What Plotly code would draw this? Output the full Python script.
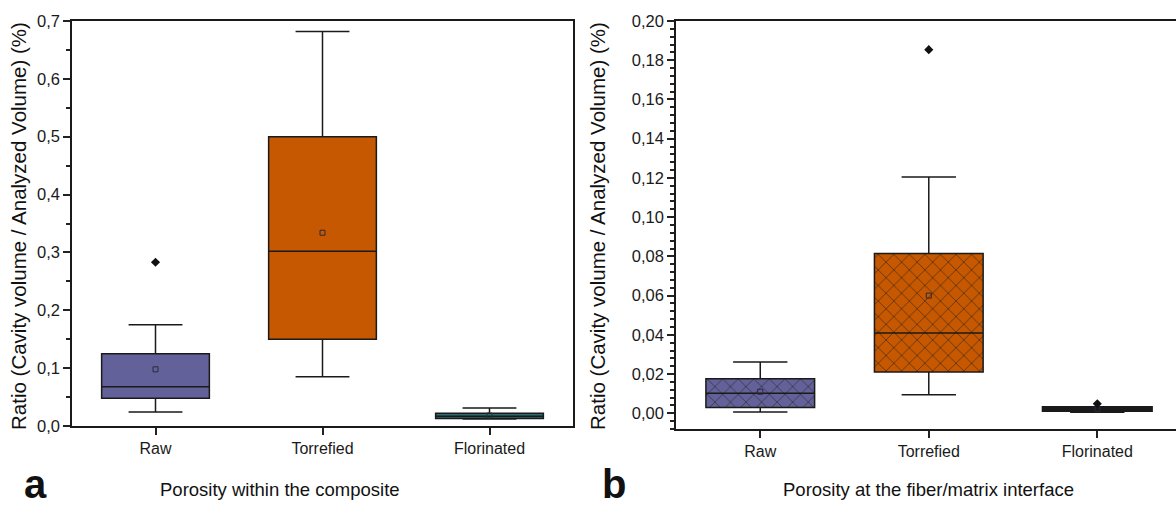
import plotly.graph_objects as go

W, H = 1176, 508
categories = ["Raw", "Torrefied", "Florinated"]

# Panel a: porosity within the composite
a_lower = [0.024, 0.085, 0.012]
a_q1 = [0.048, 0.150, 0.013]
a_median = [0.068, 0.302, 0.017]
a_q3 = [0.125, 0.500, 0.022]
a_upper = [0.175, 0.682, 0.031]
a_mean = [0.098, 0.334, 0.018]
a_outlier_cat = ["Raw"]
a_outlier_val = [0.283]

# Panel b: porosity at fiber/matrix interface
b_lower = [0.0007, 0.0095, 0.0008]
b_q1 = [0.0029, 0.0211, 0.0013]
b_median = [0.0102, 0.0409, 0.0022]
b_q3 = [0.0176, 0.0815, 0.0031]
b_upper = [0.0261, 0.1205, 0.0031]
b_mean = [0.0110, 0.0600, 0.0022]
b_outlier_cat = ["Torrefied", "Florinated"]
b_outlier_val = [0.1854, 0.0049]

colors = ["#63619a", "#c55800", "#2e6a6e"]
colors_b = ["#63619a", "#c55800", "#111111"]

FONT = "Liberation Sans, Arial, sans-serif"
BOXW = 0.645
INK = "#1a1a1a"
TICK = "#222222"

fig = go.Figure()

# Panel a boxes
for i, c in enumerate(categories):
    fig.add_trace(go.Box(
        x=[c], q1=[a_q1[i]], median=[a_median[i]], q3=[a_q3[i]],
        lowerfence=[a_lower[i]], upperfence=[a_upper[i]],
        fillcolor=colors[i], line=dict(color=INK, width=1.5),
        width=BOXW, whiskerwidth=0.5, boxpoints=False, showlegend=False,
        xaxis="x", yaxis="y"))
fig.add_trace(go.Scatter(x=categories, y=a_mean, mode="markers",
    marker=dict(symbol="square-open", size=5, color="#2a2a3a", line=dict(width=1)),
    showlegend=False, xaxis="x", yaxis="y"))
fig.add_trace(go.Scatter(x=a_outlier_cat, y=a_outlier_val, mode="markers",
    marker=dict(symbol="diamond", size=7, color="#111111"),
    showlegend=False, xaxis="x", yaxis="y"))

# Panel b: solid fills + crosshatch overlay (bars from q1 to q3)
b_height = [q3 - q1 for q1, q3 in zip(b_q1, b_q3)]
fig.add_trace(go.Bar(
    x=categories, base=b_q1, y=b_height, width=BOXW,
    marker=dict(color=colors_b, line=dict(width=0)),
    showlegend=False, hoverinfo="skip", xaxis="x2", yaxis="y2"))
fig.add_trace(go.Bar(
    x=categories, base=b_q1, y=b_height, width=BOXW,
    marker=dict(color="#2a1f1a", line=dict(width=0),
                pattern=dict(shape="x", size=11, solidity=0.1, fillmode="replace")),
    showlegend=False, hoverinfo="skip", xaxis="x2", yaxis="y2"))
for i, c in enumerate(categories):
    fig.add_trace(go.Box(
        x=[c], q1=[b_q1[i]], median=[b_median[i]], q3=[b_q3[i]],
        lowerfence=[b_lower[i]], upperfence=[b_upper[i]],
        fillcolor="rgba(0,0,0,0)", line=dict(color=INK, width=1.5 if i < 2 else 2.5),
        width=BOXW, whiskerwidth=0.5, boxpoints=False, showlegend=False,
        xaxis="x2", yaxis="y2"))
fig.add_trace(go.Scatter(x=categories, y=b_mean, mode="markers",
    marker=dict(symbol="square-open", size=5, color="#2a2a3a", line=dict(width=1)),
    showlegend=False, xaxis="x2", yaxis="y2"))
fig.add_trace(go.Scatter(x=b_outlier_cat, y=b_outlier_val, mode="markers",
    marker=dict(symbol="diamond", size=7, color="#111111"),
    showlegend=False, xaxis="x2", yaxis="y2"))

xfont = dict(family=FONT, size=16, color=INK)
yfont = dict(family=FONT, size=16.5, color=INK)

fig.update_layout(
    width=W, height=H,
    margin=dict(l=0, r=0, t=0, b=0, pad=0),
    paper_bgcolor="white", plot_bgcolor="white",
    separators=",.",
    barmode="overlay",
    boxmode="overlay",
)

fig.update_layout(
    xaxis=dict(domain=[72 / W, 573 / W], anchor="y", range=[-0.5, 2.5],
               type="category", categoryorder="array", categoryarray=categories),
    yaxis=dict(domain=[1 - 426 / H, 1 - 21 / H], anchor="x", range=[0, 0.7],
               tick0=0, dtick=0.1, tickformat=".1f"),
    xaxis2=dict(domain=[676 / W, 1.0], anchor="y2", range=[-0.5, 2.467],
                type="category", categoryorder="array", categoryarray=categories),
    yaxis2=dict(domain=[1 - 429 / H, 1 - 21 / H], anchor="x2", range=[-0.008, 0.2],
                tick0=0, dtick=0.02, tickformat=".2f"),
)
fig.update_xaxes(showline=True, linecolor=INK, linewidth=1.6, mirror=True,
                 ticks="outside", ticklen=7, tickwidth=2, tickcolor=TICK,
                 showgrid=False, zeroline=False, automargin=False, tickfont=xfont)
fig.update_yaxes(showline=True, linecolor=INK, linewidth=1.6,
                 ticks="outside", ticklen=7, tickwidth=2, tickcolor=TICK,
                 showgrid=False, zeroline=False, automargin=False, tickfont=yfont)
fig.update_layout(yaxis_mirror=True, yaxis2_mirror=False,
                  yaxis_minor=dict(dtick=0.05, ticklen=4, tickcolor=TICK, tickwidth=2,
                                   ticks="outside", showgrid=False),
                  yaxis2_minor=dict(dtick=0.004, ticklen=4, tickcolor=TICK, tickwidth=1.6,
                                    ticks="outside", showgrid=False))

ytitle = "Ratio (Cavity volume / Analyzed Volume) (%)"
annots = [
    dict(text=ytitle, x=18 / W, y=1 - 226 / H, textangle=-90, yanchor="middle", font=dict(size=20.5)),
    dict(text=ytitle, x=597 / W, y=1 - 226 / H, textangle=-90, yanchor="middle", font=dict(size=20.5)),
    dict(text="Porosity within the composite", x=280 / W, y=1 - 489 / H, yanchor="middle", font=dict(size=18.5)),
    dict(text="Porosity at the fiber/matrix interface", x=928 / W, y=1 - 489 / H, yanchor="middle", font=dict(size=18.5)),
    dict(text="<b>a</b>", x=35 / W, y=0.0, yanchor="bottom", font=dict(size=40)),
    dict(text="<b>b</b>", x=614 / W, y=0.0, yanchor="bottom", font=dict(size=40)),
]
for an in annots:
    f = dict(family=FONT, color="#111111")
    f.update(an.pop("font"))
    fig.add_annotation(xref="paper", yref="paper", showarrow=False,
                       xanchor="center", font=f, **an)

fig.write_html("out.html")
